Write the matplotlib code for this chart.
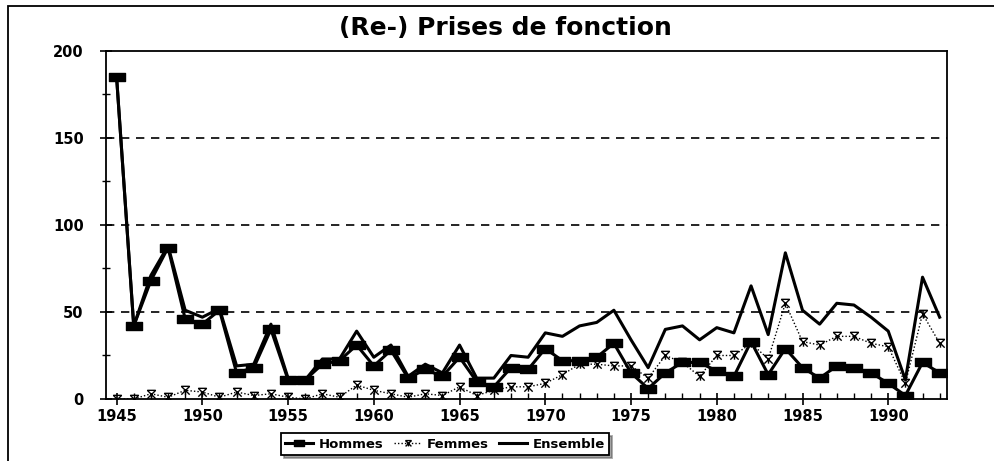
import matplotlib.pyplot as plt
from matplotlib.path import Path
from matplotlib.patches import Rectangle
from matplotlib.ticker import MultipleLocator

# Data
years = list(range(1945, 1994))

hommes = [185, 42, 68, 87, 46, 43, 51, 15, 18, 40,
          11, 11, 20, 22, 31, 19, 28, 12, 17, 13,
          24, 10, 7, 18, 17, 29, 22, 22, 24, 32,
          15, 6, 15, 21, 21, 16, 13, 33, 14, 29,
          18, 12, 19, 18, 15, 9, 2, 21, 15]

femmes = [0, 0, 3, 1, 5, 4, 1, 4, 2, 3,
          1, 0, 3, 1, 8, 5, 3, 1, 3, 2,
          7, 2, 5, 7, 7, 9, 14, 20, 20, 19,
          19, 12, 25, 21, 13, 25, 25, 32, 23, 55,
          33, 31, 36, 36, 32, 30, 9, 49, 32]

ensemble = [185, 42, 71, 88, 51, 47, 52, 19, 20, 43,
            12, 11, 23, 23, 39, 24, 31, 13, 20, 15,
            31, 12, 12, 25, 24, 38, 36, 42, 44, 51,
            34, 18, 40, 42, 34, 41, 38, 65, 37, 84,
            51, 43, 55, 54, 47, 39, 11, 70, 47]

series_labels = ["Hommes", "Femmes", "Ensemble"]
title = "(Re-) Prises de fonction"

plt.rcParams['font.family'] = ['DejaVu Sans']
plt.rcParams['font.weight'] = 'bold'

fig = plt.figure(figsize=(9.94, 4.61), dpi=100)
ax = fig.add_axes([0.1066, 0.1345, 0.846, 0.755])

# custom markers
rect_marker = Path([(-1, -0.55), (1, -0.55), (1, 0.55), (-1, 0.55), (-1, -0.55)],
                   [Path.MOVETO, Path.LINETO, Path.LINETO, Path.LINETO, Path.CLOSEPOLY])
star_marker = Path([(-1, 1), (1, -1), (1, 1), (-1, -1), (-1, 1), (1, 1), (0, 0), (0, -1)],
                   [Path.MOVETO, Path.LINETO, Path.MOVETO, Path.LINETO,
                    Path.MOVETO, Path.LINETO, Path.MOVETO, Path.LINETO])

for y in [50, 100, 150]:
    ax.axhline(y, color='black', lw=1.2, dashes=(5, 4), zorder=1)

l_ens, = ax.plot(years, ensemble, color='black', lw=2.2, label=series_labels[2], zorder=3)
l_fem, = ax.plot(years, femmes, color='black', lw=1.0, ls=(0, (1, 1.5)), marker=star_marker,
                 markersize=6, markeredgewidth=1.0, markerfacecolor='none',
                 label=series_labels[1], zorder=4)
l_hom, = ax.plot(years, hommes, color='black', lw=2.2, marker=rect_marker, markersize=11,
                 markerfacecolor='black', markeredgecolor='black',
                 label=series_labels[0], zorder=5)

ax.set_xlim(1944.38, 1993.42)
ax.set_ylim(0, 200)

ax.xaxis.set_major_locator(MultipleLocator(5))
ax.xaxis.set_minor_locator(MultipleLocator(1))
ax.yaxis.set_major_locator(MultipleLocator(50))
ax.yaxis.set_minor_locator(MultipleLocator(25))

ax.tick_params(axis='x', which='major', direction='inout', length=8, width=1.2,
               labelsize=10.5, pad=3)
ax.tick_params(axis='x', which='minor', direction='in', length=4, width=1.0)
ax.tick_params(axis='y', which='major', direction='inout', length=8, width=1.2,
               labelsize=10.5, pad=12)
ax.tick_params(axis='y', which='minor', direction='inout', length=6, width=1.0)
for lab in ax.get_xticklabels() + ax.get_yticklabels():
    lab.set_fontweight('bold')

for s in ax.spines.values():
    s.set_linewidth(1.3)

fig.text(0.508, 0.94, title, ha='center', va='center', fontsize=18, fontweight='bold')

leg = ax.legend([l_hom, l_fem, l_ens], series_labels, loc='center',
                bbox_to_anchor=(445 / 994, 17 / 461),
                bbox_transform=fig.transFigure, ncol=3, frameon=True, fancybox=False,
                shadow=True, edgecolor='black', handlelength=2.1, handletextpad=0.4,
                columnspacing=0.8, borderpad=0.35, markerscale=0.7,
                prop={'weight': 'bold', 'size': 9.5})
leg.get_frame().set_linewidth(1.3)

# outer frame of the chart
fig.patches.append(Rectangle((8 / 994, -0.1), 1.2, (461 - 6) / 461 + 0.1,
                             transform=fig.transFigure, fill=False, edgecolor='black',
                             lw=1.3, zorder=0))

fig.savefig("out.png", dpi=100)
